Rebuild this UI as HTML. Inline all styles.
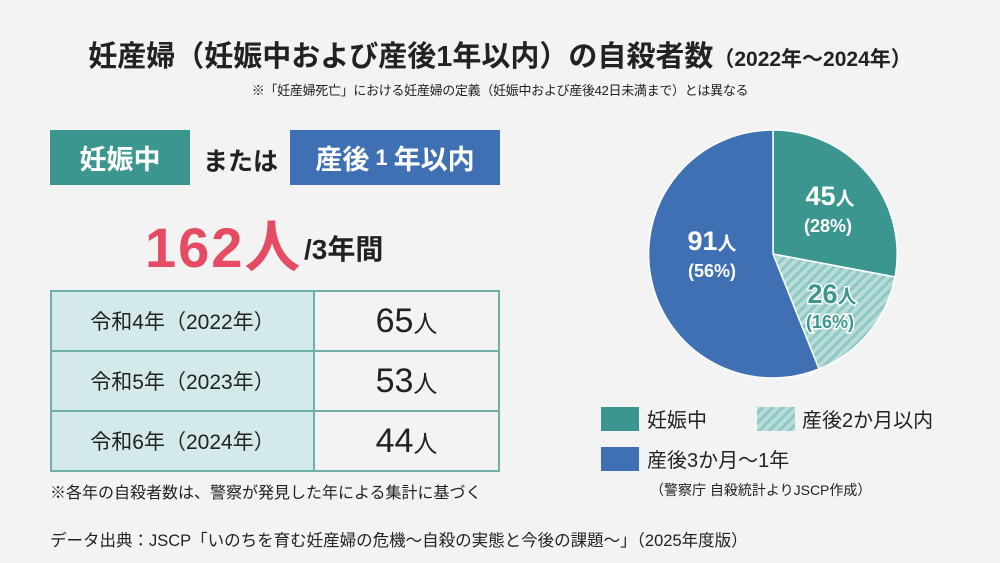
<!DOCTYPE html>
<html><head><meta charset="utf-8"><style>
*{margin:0;padding:0;box-sizing:border-box}
body{width:1000px;height:563px;background:#f3f3f3;font-family:"Liberation Sans","Noto Sans CJK JP",sans-serif;color:#222;position:relative;overflow:hidden}
.a{position:absolute;white-space:nowrap}
.box{position:absolute;color:#fff;font-weight:bold;font-size:27px;display:flex;align-items:center;justify-content:center}
table{position:absolute;left:50px;top:290px;width:450px;border-collapse:collapse}
td{border:2px solid #6fb0ab;height:60px;text-align:center}
td.l{background:#d4e9e9;width:263px;font-size:21px}
td.r{font-size:34px}
td.r span{font-size:24px}
</style></head><body>
<div class="a" style="left:0;width:1000px;text-align:center;top:33px;font-size:29px;font-weight:bold">妊産婦（妊娠中および産後1年以内）の自殺者数<span style="font-size:21px">（2022年～2024年）</span></div>
<div class="a" style="left:0;width:1000px;text-align:center;top:80px;font-size:13px;letter-spacing:-0.3px">※「妊産婦死亡」における妊産婦の定義（妊娠中および産後42日未満まで）とは異なる</div>
<div class="box" style="left:50px;top:130px;width:140px;height:55px;background:#3a968f">妊娠中</div>
<div class="a" style="left:203px;top:142px;font-size:25px;font-weight:bold">または</div>
<div class="box" style="left:290px;top:130px;width:210px;height:55px;background:#3f70b4">産後<span style="font-size:22px;margin:0 6px">1</span>年以内</div>
<div class="a" style="left:145px;top:203px;font-size:56px;font-weight:bold;color:#e54b63;letter-spacing:2px">162人</div>
<div class="a" style="left:304px;top:228px;font-size:28px;font-weight:bold">/3年間</div>
<table>
<tr><td class="l">令和4年（2022年）</td><td class="r">65<span>人</span></td></tr>
<tr><td class="l">令和5年（2023年）</td><td class="r">53<span>人</span></td></tr>
<tr><td class="l">令和6年（2024年）</td><td class="r">44<span>人</span></td></tr>
</table>
<div class="a" style="left:50px;top:479px;font-size:16px">※各年の自殺者数は、警察が発見した年による集計に基づく</div>
<div class="a" style="left:50px;top:527px;font-size:16.5px">データ出典：JSCP「いのちを育む妊産婦の危機～自殺の実態と今後の課題～」（2025年度版）</div>
<svg class="a" style="left:0;top:0" width="1000" height="563">
<defs><pattern id="h" width="7" height="7" patternUnits="userSpaceOnUse" patternTransform="rotate(45)"><rect width="7" height="7" fill="#b7dcd9"/><rect width="3" height="7" fill="#8fc8c3"/></pattern></defs>
<path d="M773,254 L773,130 A124,124 0 0 1 895,277 Z" fill="#3a968f" stroke="#fff" stroke-width="1.5"/>
<path d="M773,254 L895,277 A124,124 0 0 1 819,369 Z" fill="url(#h)" stroke="#fff" stroke-width="1.5"/>
<path d="M773,254 L819,369 A124,124 0 1 1 773,130 Z" fill="#3f70b4" stroke="#fff" stroke-width="1.5"/>
<g font-weight="bold" text-anchor="middle" fill="#fff">
<text x="830" y="205" font-size="27">45<tspan font-size="19">人</tspan></text>
<text x="828" y="232" font-size="18">(28%)</text>
<text x="832" y="303" font-size="27" fill="#3a968f" stroke="#fff" stroke-width="3" paint-order="stroke">26<tspan font-size="19">人</tspan></text>
<text x="830" y="328" font-size="18" fill="#3a968f" stroke="#fff" stroke-width="3" paint-order="stroke">(16%)</text>
<text x="712" y="250" font-size="27">91<tspan font-size="19">人</tspan></text>
<text x="712" y="277" font-size="18">(56%)</text>
</g>
<rect x="601" y="407" width="38" height="24" fill="#3a968f"/>
<rect x="757" y="407" width="38" height="24" fill="url(#h)"/>
<rect x="601" y="447" width="38" height="24" fill="#3f70b4"/>
<g font-size="20" fill="#222">
<text x="647" y="427">妊娠中</text>
<text x="802" y="427">産後2か月以内</text>
<text x="647" y="467">産後3か月～1年</text>
</g>
<text x="650" y="495" font-size="14" fill="#222">（警察庁 自殺統計よりJSCP作成）</text>
</svg>
</body></html>
